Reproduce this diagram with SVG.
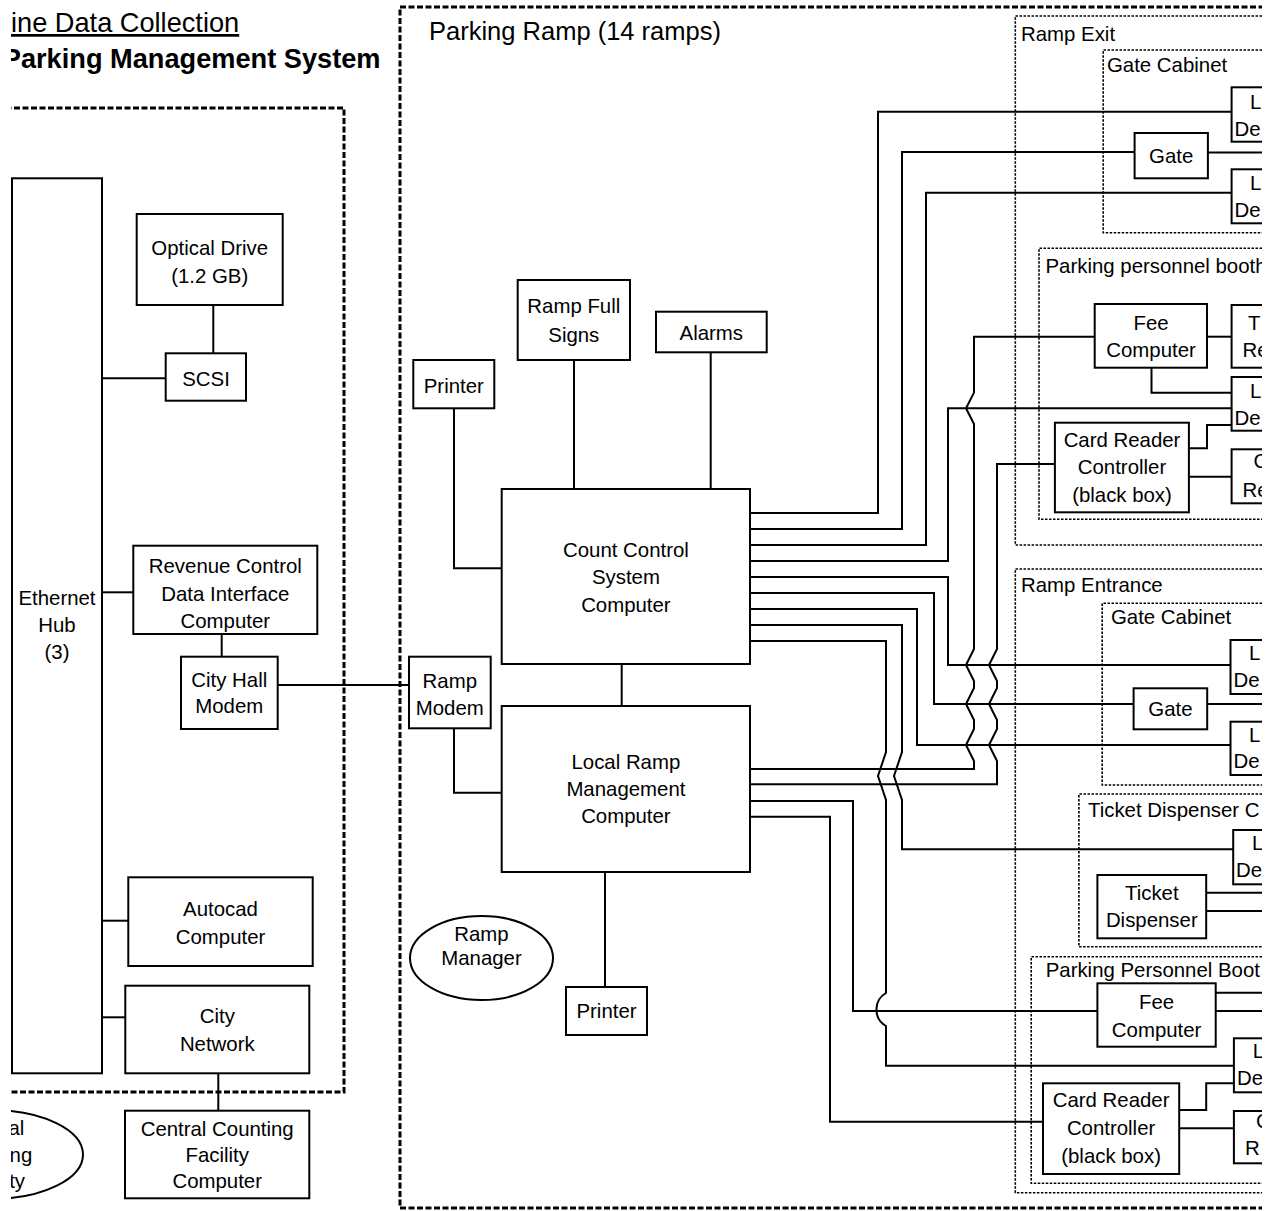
<svg xmlns="http://www.w3.org/2000/svg" width="1269" height="1211" viewBox="0 0 1269 1211">
<defs>
<style>
.box{fill:#fff;stroke:#000;stroke-width:2}
.ell{fill:#fff;stroke:#000;stroke-width:2}
.ln{fill:none;stroke:#000;stroke-width:2;stroke-linejoin:miter}
.dot{fill:none;stroke:#000;stroke-width:1.6;stroke-dasharray:2.5 1.5}
.dash{fill:none;stroke:#000;stroke-width:3;stroke-dasharray:6 2.5}
text{font-family:"Liberation Sans",Arial,sans-serif;font-size:20.4px;fill:#000}
.c{text-anchor:middle}
.e{text-anchor:end}
</style>
<clipPath id="clip"><rect x="11" y="0" width="1251" height="1211"/></clipPath>
</defs>
<rect x="0" y="0" width="1269" height="1211" fill="#fff"/>
<g clip-path="url(#clip)">
<g id="titles">
<text x="11" y="32" style="font-size:27.2px" text-decoration="underline">ine Data Collection</text>
<text x="380.5" y="68" class="e" style="font-size:27.2px;font-weight:bold">Parking Management System</text>
</g>
<g id="containers">
<path class="dash" d="M-20,108 H344 V1092 H-20"/>
<path class="dash" d="M1290,7 H400 V1208 H1290"/>
<text x="429" y="40" style="font-size:25.5px">Parking Ramp (14 ramps)</text>
<g id="ramp-exit">
<path class="dot" d="M1290,16 H1015.3 V545 H1290"/>
<text x="1021" y="41">Ramp Exit</text>
</g>
<g id="gate-cabinet-exit">
<path class="dot" d="M1290,50 H1103.2 V232.7 H1290"/>
<text x="1107" y="72">Gate Cabinet</text>
</g>
<g id="booth-exit">
<path class="dot" d="M1290,248.3 H1039 V519.3 H1290"/>
<text x="1045.5" y="273">Parking personnel booth</text>
</g>
<g id="ramp-entrance">
<path class="dot" d="M1290,569 H1015.3 V1192.7 H1290"/>
<text x="1021" y="592.3">Ramp Entrance</text>
</g>
<g id="gate-cabinet-entrance">
<path class="dot" d="M1290,603.3 H1102.2 V785 H1290"/>
<text x="1111" y="624">Gate Cabinet</text>
</g>
<g id="ticket-cabinet">
<path class="dot" d="M1290,794 H1078.9 V946.7 H1290"/>
<text x="1088" y="816.7">Ticket Dispenser C</text>
</g>
<g id="booth-entrance">
<path class="dot" d="M1290,956.7 H1031.2 V1183.3 H1290"/>
<text x="1045.7" y="977">Parking Personnel Boot</text>
</g>
</g>
<g id="connectors">
<path class="ln" d="M213.3,305 V353.3"/>
<path class="ln" d="M102,378.3 H165.7"/>
<path class="ln" d="M102,592.3 H133.3"/>
<path class="ln" d="M221.7,634 V656.7"/>
<path class="ln" d="M102,920.7 H128.3"/>
<path class="ln" d="M102,1017.3 H125.3"/>
<path class="ln" d="M218.3,1073.3 V1110.7"/>
<path class="ln" d="M277.7,685 H409"/>
<path class="ln" d="M454,408.3 V568.3 H501.7"/>
<path class="ln" d="M574,360 V489"/>
<path class="ln" d="M710.7,352.3 V489"/>
<path class="ln" d="M621.7,664 V706"/>
<path class="ln" d="M454,728.3 V792.7 H501.7"/>
<path class="ln" d="M605,872 V987"/>
<path class="ln" d="M750,513 H878 V111.7 H1231.6"/>
<path class="ln" d="M750,529 H902 V152 H1134.6"/>
<path class="ln" d="M750,545 H926 V192.7 H1231.6"/>
<path class="ln" d="M750,561 H948 V408.3 H1231.6"/>
<path class="ln" d="M750,577 H948 V665 H1230.5"/>
<path class="ln" d="M750,593 H934 V704 H1133.6"/>
<path class="ln" d="M750,609 H917 V745 H1230.5"/>
<path class="ln" d="M750,625 H902 V752 L894,776 L902,800 V849.3 H1233.2"/>
<path class="ln" d="M750,641 H886 V752 L878,776 L886,800 V993 A19 19 0 0 0 886,1026 V1065.7 H1233.9"/>
<path class="ln" d="M750,769 H974 V761 L966,745 L974,729 V720 L966,704 L974,688 V681 L966,665 L974,649 V424 L966,408.3 L974,392.6 V336.7 H1094.7"/>
<path class="ln" d="M750,784.3 H997 V761 L989,745 L997,729 V720 L989,704 L997,688 V681 L989,665 L997,649 V464 H1054.9"/>
<path class="ln" d="M750,801 H853 V1011 H1097.4"/>
<path class="ln" d="M750,816.7 H830 V1121.7 H1043"/>
<path class="ln" d="M1207.9,152.5 H1290"/>
<path class="ln" d="M1207,336.7 H1231.6"/>
<path class="ln" d="M1151.5,367.7 V392.7 H1231.6"/>
<path class="ln" d="M1189,448.3 H1207 V425 H1231.6"/>
<path class="ln" d="M1189,476.7 H1231.6"/>
<path class="ln" d="M1207.2,704 H1290"/>
<path class="ln" d="M1206.2,892.7 H1290"/>
<path class="ln" d="M1206.2,911 H1290"/>
<path class="ln" d="M1215.7,992.7 H1290"/>
<path class="ln" d="M1215.7,1011 H1290"/>
<path class="ln" d="M1179.2,1110 H1206.2 V1083.3 H1233.9"/>
<path class="ln" d="M1179.2,1128.3 H1233.9"/>
</g>
<g id="hub"><rect class="box" x="12" y="178.3" width="90" height="895"/><text class="c" x="57" y="605">Ethernet</text><text class="c" x="57" y="632">Hub</text><text class="c" x="57" y="659">(3)</text></g>
<g id="optical"><rect class="box" x="136.7" y="214" width="146" height="91"/><text class="c" x="209.7" y="255">Optical Drive</text><text class="c" x="209.7" y="283">(1.2 GB)</text></g>
<g id="scsi"><rect class="box" x="165.7" y="353.3" width="80.3" height="47.4"/><text class="c" x="206" y="385.5">SCSI</text></g>
<g id="revenue"><rect class="box" x="133.3" y="545.7" width="184" height="88.3"/><text class="c" x="225.3" y="573.3">Revenue Control</text><text class="c" x="225.3" y="600.7">Data Interface</text><text class="c" x="225.3" y="628.3">Computer</text></g>
<g id="cityhall"><rect class="box" x="181" y="656.7" width="96.7" height="72.3"/><text class="c" x="229.3" y="686.7">City Hall</text><text class="c" x="229.3" y="713.3">Modem</text></g>
<g id="autocad"><rect class="box" x="128.3" y="877.3" width="184.4" height="88.7"/><text class="c" x="220.5" y="916">Autocad</text><text class="c" x="220.5" y="944">Computer</text></g>
<g id="citynet"><rect class="box" x="125.3" y="985.7" width="184" height="87.6"/><text class="c" x="217.3" y="1023">City</text><text class="c" x="217.3" y="1050.7">Network</text></g>
<g id="central"><rect class="box" x="125" y="1110.7" width="184.3" height="87.6"/><text class="c" x="217.2" y="1136">Central Counting</text><text class="c" x="217.2" y="1161.7">Facility</text><text class="c" x="217.2" y="1188.3">Computer</text></g>
<g id="ccf-ellipse"><ellipse class="ell" cx="-8" cy="1154.5" rx="91" ry="44.5"/><text class="e" x="24.3" y="1135">al</text><text class="e" x="32.3" y="1161.7">ng</text><text class="e" x="25" y="1188.3">ty</text></g>
<g id="printer1"><rect class="box" x="413.3" y="360" width="81" height="48.3"/><text class="c" x="453.8" y="393">Printer</text></g>
<g id="rampfull"><rect class="box" x="517.7" y="280" width="112.3" height="80"/><text class="c" x="573.8" y="313.3">Ramp Full</text><text class="c" x="573.8" y="341.7">Signs</text></g>
<g id="alarms"><rect class="box" x="656" y="311.7" width="110.7" height="40.6"/><text class="c" x="711.3" y="340">Alarms</text></g>
<g id="ccsc"><rect class="box" x="501.7" y="489" width="248.3" height="175"/><text class="c" x="625.9" y="556.7">Count Control</text><text class="c" x="625.9" y="584">System</text><text class="c" x="625.9" y="611.7">Computer</text></g>
<g id="lrmc"><rect class="box" x="501.7" y="706" width="248.3" height="166"/><text class="c" x="625.9" y="769.3">Local Ramp</text><text class="c" x="625.9" y="796">Management</text><text class="c" x="625.9" y="823.3">Computer</text></g>
<g id="rampmodem"><rect class="box" x="409" y="656.7" width="81.7" height="71.6"/><text class="c" x="449.8" y="688.3">Ramp</text><text class="c" x="449.8" y="715">Modem</text></g>
<g id="printer2"><rect class="box" x="566" y="987" width="81" height="48"/><text class="c" x="606.5" y="1018">Printer</text></g>
<g id="rampmanager"><ellipse class="ell" cx="481.5" cy="958" rx="71.5" ry="42"/><text class="c" x="481.5" y="941">Ramp</text><text class="c" x="481.5" y="965">Manager</text></g>
<g id="exit-loop1"><rect class="box" x="1231.6" y="87.3" width="60" height="54.4"/><text x="1250" y="108.7">L</text><text x="1234.5" y="135.7">De</text></g>
<g id="exit-gate"><rect class="box" x="1134.6" y="133" width="73.3" height="45.3"/><text class="c" x="1171.2" y="163">Gate</text></g>
<g id="exit-loop2"><rect class="box" x="1231.6" y="169.3" width="60" height="54"/><text x="1250" y="190.3">L</text><text x="1234.5" y="216.8">De</text></g>
<g id="fee1"><rect class="box" x="1094.7" y="304" width="112.3" height="63.7"/><text class="c" x="1151" y="330">Fee</text><text class="c" x="1151" y="357">Computer</text></g>
<g id="ticketreader1"><rect class="box" x="1231.6" y="305" width="60" height="62.7"/><text x="1248" y="330">T</text><text x="1242.5" y="357.3">Re</text></g>
<g id="booth1-loop"><rect class="box" x="1231.6" y="377" width="60" height="53.7"/><text x="1250" y="398">L</text><text x="1234.5" y="425">De</text></g>
<g id="cardctrl1"><rect class="box" x="1054.9" y="422.7" width="134" height="89.6"/><text class="c" x="1122" y="446.7">Card Reader</text><text class="c" x="1122" y="474.3">Controller</text><text class="c" x="1122" y="501.7">(black box)</text></g>
<g id="cardreader1"><rect class="box" x="1231.6" y="449.3" width="60" height="54"/><text x="1253.5" y="468">C</text><text x="1242.5" y="496.7">Re</text></g>
<g id="ent-loop1"><rect class="box" x="1230.5" y="640" width="60" height="54"/><text x="1249" y="660">L</text><text x="1233.5" y="686.7">De</text></g>
<g id="ent-gate"><rect class="box" x="1133.6" y="688.3" width="73.6" height="41"/><text class="c" x="1170.4" y="716">Gate</text></g>
<g id="ent-loop2"><rect class="box" x="1230.5" y="721.7" width="60" height="53.3"/><text x="1249" y="741.7">L</text><text x="1233.5" y="768.3">De</text></g>
<g id="td-loop"><rect class="box" x="1233.2" y="830" width="60" height="54.3"/><text x="1252" y="850">L</text><text x="1236" y="876.7">De</text></g>
<g id="ticketdisp"><rect class="box" x="1097.4" y="875" width="108.8" height="63.3"/><text class="c" x="1151.8" y="900">Ticket</text><text class="c" x="1151.8" y="926.7">Dispenser</text></g>
<g id="fee2"><rect class="box" x="1097.4" y="983.3" width="118.3" height="63.4"/><text class="c" x="1156.6" y="1009.3">Fee</text><text class="c" x="1156.6" y="1036.7">Computer</text></g>
<g id="booth2-loop"><rect class="box" x="1233.9" y="1038.3" width="60" height="54"/><text x="1252.7" y="1058">L</text><text x="1237" y="1085">De</text></g>
<g id="cardctrl2"><rect class="box" x="1043" y="1083.3" width="136.2" height="90.7"/><text class="c" x="1111.1" y="1106.7">Card Reader</text><text class="c" x="1111.1" y="1135">Controller</text><text class="c" x="1111.1" y="1163.3">(black box)</text></g>
<g id="cardreader2"><rect class="box" x="1233.9" y="1111" width="60" height="52.3"/><text x="1256" y="1128.3">C</text><text x="1245" y="1155">R</text></g>
</g>
</svg>
